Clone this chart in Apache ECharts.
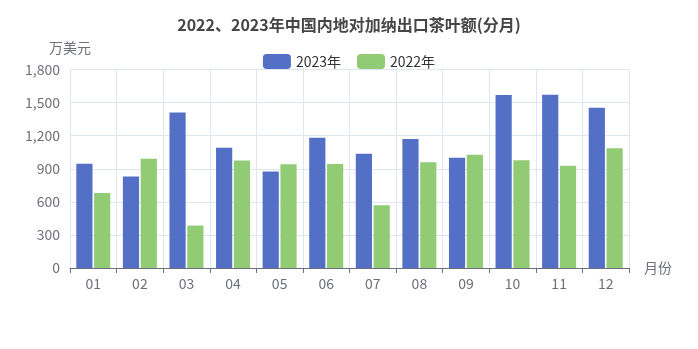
<!DOCTYPE html>
<html><head><meta charset="utf-8">
<script src="https://cdn.jsdelivr.net/npm/echarts@6/dist/echarts.min.js"></script>
<style>html,body{margin:0;padding:0;background:#fff}#c{width:698px;height:349px}</style>
</head><body><div id="c"></div>
<script>
const months = ['01','02','03','04','05','06','07','08','09','10','11','12'];
const values2023 = [945, 830, 1410, 1090, 876, 1182, 1037, 1170, 1000, 1568, 1571, 1454];
const values2022 = [680, 990, 385, 975, 940, 943, 568, 958, 1027, 976, 928, 1085];
const yTicks = { min: 0, max: 1800, interval: 300 };

const chart = echarts.init(document.getElementById('c'), null, {renderer: 'canvas'});
const font = '"Noto Sans CJK SC", "Noto Sans", sans-serif';
chart.setOption({
  animation: false,
  textStyle: { fontFamily: font },
  title: {
    text: '2022、2023年中国内地对加纳出口茶叶额(分月)',
    left: 'center', top: 12,
    textStyle: { fontSize: 16, fontWeight: 'bold', color: '#464646', fontFamily: font }
  },
  legend: {
    top: 49, left: 'center', itemWidth: 28, itemHeight: 15, itemGap: 16,
    textStyle: { fontSize: 14, color: '#333', fontFamily: font },
    data: ['2023年', '2022年']
  },
  grid: { left: 70, right: 69, top: 69.5, bottom: 81 },
  xAxis: {
    type: 'category', data: months, name: '月份',
    nameTextStyle: { fontSize: 14, color: '#6e7079' },
    axisLabel: { fontSize: 14, color: '#6e7079', margin: 9 },
    axisLine: { lineStyle: { color: '#6e7079' } },
    axisTick: { show: true },
    splitLine: { show: true, lineStyle: { color: '#e0e6f1' } }
  },
  yAxis: {
    type: 'value', name: '万美元', min: yTicks.min, max: yTicks.max, interval: yTicks.interval,
    nameTextStyle: { fontSize: 14, color: '#6e7079', align: 'center' },
    axisLabel: { fontSize: 14, color: '#6e7079', margin: 10 },
    splitLine: { lineStyle: { color: '#e0e6f1' } },
    axisLine: { show: false }
  },
  series: [
    { name: '2023年', type: 'bar', data: values2023, itemStyle: { color: '#5470c6' } },
    { name: '2022年', type: 'bar', data: values2022, itemStyle: { color: '#91cc75' } }
  ]
});
</script></body></html>
